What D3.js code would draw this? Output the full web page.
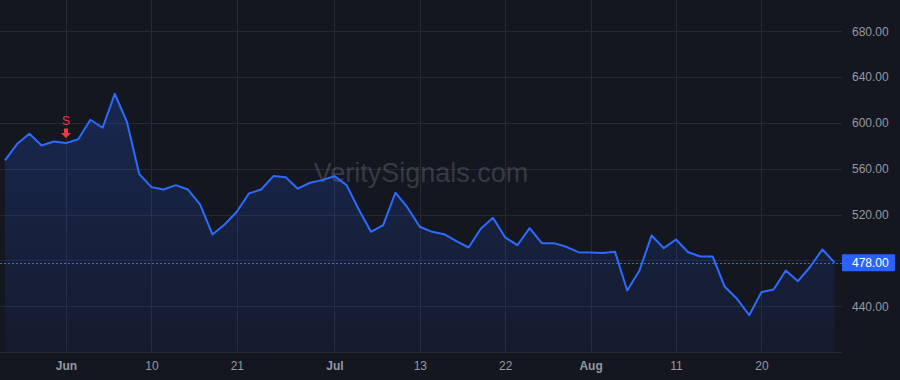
<!DOCTYPE html>
<html>
<head>
<meta charset="utf-8">
<script src="https://cdn.jsdelivr.net/npm/d3@7"></script>
<style>
  html, body { margin: 0; padding: 0; background: #141720; }
  svg { display: block; font-family: "Liberation Sans", Arial, sans-serif; }
</style>
</head>
<body>
<div id="chart-container"></div>
<script>
// closing prices, one per bar
var prices = [
  567.2, 581.7, 590.4, 580.2, 583.7, 582.3, 585.7, 602.7, 595.7, 625.3,
  600.6, 555.5, 543.9, 541.8, 545.6, 541.8, 528.7, 502.6, 511.3, 522.4,
  538.4, 541.8, 553.5, 552.6, 542.5, 547.7, 550.0, 553.5, 545.6, 524.4,
  504.9, 510.7, 539.0, 525.9, 509.3, 504.9, 502.8, 496.7, 491.2, 507.5,
  517.1, 500.0, 493.2, 508.1, 495.0, 495.0, 491.8, 487.1, 486.8, 486.3,
  487.5, 453.7, 470.9, 501.7, 490.6, 498.2, 487.1, 483.4, 483.4, 456.9,
  446.4, 432.1, 452.2, 454.6, 471.1, 461.8, 474.4, 489.5, 478.0
];
var xTickIndex = [5, 12, 19, 27, 34, 41, 48, 55, 62];
var xTickLabels = ['Jun', '10', '21', 'Jul', '13', '22', 'Aug', '11', '20'];
var monthLabels = ['Jun', 'Jul', 'Aug'];
var yTicks = [400, 440, 480, 520, 560, 600, 640, 680];
var lastPrice = 478.00;
var signalIndex = 5;
var signalLabel = 'S';

var width = 900, height = 380;
var plotRight = 842, plotBottom = 352;

var svg = d3.select('#chart-container')
            .append('svg')
            .attr('width', width)
            .attr('height', height);

svg.append('rect')
   .attr('width', width)
   .attr('height', height)
   .attr('fill', '#141720');

var x = d3.scaleLinear().domain([0, prices.length - 1]).range([5, 834.6]);
var y = d3.scaleLinear().domain([400, 707.2]).range([plotBottom, 0]);

var defs = svg.append('defs');
var grad = defs.append('linearGradient')
               .attr('id', 'areaGradient')
               .attr('x1', 0).attr('y1', 0).attr('x2', 0).attr('y2', 1);
grad.append('stop').attr('offset', '0').attr('stop-color', '#2962ff').attr('stop-opacity', 0.22);
grad.append('stop').attr('offset', '1').attr('stop-color', '#2962ff').attr('stop-opacity', 0.06);

var clip = defs.append('clipPath').attr('id', 'plotClip');
clip.append('rect').attr('x', 0).attr('y', 0).attr('width', plotRight).attr('height', plotBottom);

// grid
var grid = svg.append('g');
grid.selectAll('line.h')
    .data(yTicks)
    .enter()
    .append('line')
      .attr('x1', 0)
      .attr('x2', plotRight)
      .attr('y1', function(d) { return Math.round(y(d)) + 0.5; })
      .attr('y2', function(d) { return Math.round(y(d)) + 0.5; })
      .attr('stroke', '#252934')
      .attr('stroke-width', 1);
grid.selectAll('line.v')
    .data(xTickIndex)
    .enter()
    .append('line')
      .attr('x1', function(d) { return Math.round(x(d)) + 0.5; })
      .attr('x2', function(d) { return Math.round(x(d)) + 0.5; })
      .attr('y1', 0)
      .attr('y2', plotBottom)
      .attr('stroke', '#252934')
      .attr('stroke-width', 1);

// watermark
svg.append('text')
   .attr('x', 421)
   .attr('y', 182)
   .attr('text-anchor', 'middle')
   .attr('font-size', 27)
   .attr('fill', '#8c91a3')
   .attr('fill-opacity', 0.3)
   .text('VeritySignals.com');

var plot = svg.append('g').attr('clip-path', 'url(#plotClip)');

var area = d3.area()
             .x(function(d, i) { return x(i); })
             .y0(plotBottom)
             .y1(function(d) { return y(d); });
plot.append('path')
    .datum(prices)
    .attr('d', area)
    .attr('fill', 'url(#areaGradient)');

var line = d3.line()
             .x(function(d, i) { return x(i); })
             .y(function(d) { return y(d); });
plot.append('path')
    .datum(prices)
    .attr('d', line)
    .attr('fill', 'none')
    .attr('stroke', '#2d6bff')
    .attr('stroke-width', 2)
    .attr('stroke-linejoin', 'round');

// last price line
svg.append('line')
   .attr('x1', 0)
   .attr('x2', plotRight)
   .attr('y1', Math.round(y(lastPrice)) + 0.5)
   .attr('y2', Math.round(y(lastPrice)) + 0.5)
   .attr('stroke', '#2d6bff')
   .attr('stroke-width', 1)
   .attr('stroke-dasharray', '2,2');

// signal marker
var sx = x(signalIndex), sy = y(prices[signalIndex]);
svg.append('text')
   .attr('x', sx)
   .attr('y', sy - 18)
   .attr('text-anchor', 'middle')
   .attr('font-size', 12)
   .attr('fill', '#f23645')
   .text(signalLabel);
svg.append('path')
   .attr('d', 'M' + (sx - 2) + ',' + (sy - 14.5) + 'h4v4.5h3l-5,5l-5,-5h3z')
   .attr('fill', '#f23645');

// y axis
var yAxis = svg.append('g')
               .attr('transform', 'translate(852,0)')
               .call(d3.axisRight(y)
                       .tickValues(yTicks.filter(function(d) { return d > 400 && d !== 480; }))
                       .tickSize(0)
                       .tickPadding(0)
                       .tickFormat(d3.format('.2f')));
yAxis.select('.domain').remove();
yAxis.selectAll('text')
     .attr('fill', '#9598a1')
     .attr('font-size', 12)
     .attr('font-family', '"Liberation Sans", Arial, sans-serif');

// last price label
var ly = y(lastPrice);
svg.append('rect')
   .attr('x', 842)
   .attr('y', ly - 8.5)
   .attr('width', 53)
   .attr('height', 17)
   .attr('rx', 1)
   .attr('fill', '#2962ff');
svg.append('text')
   .attr('x', 852)
   .attr('y', ly + 4.5)
   .attr('font-size', 12)
   .attr('fill', '#ffffff')
   .text(d3.format('.2f')(lastPrice));

// x axis
var xAxis = svg.append('g')
               .attr('transform', 'translate(0,' + plotBottom + ')')
               .call(d3.axisBottom(x)
                       .tickValues(xTickIndex)
                       .tickSize(0)
                       .tickPadding(9)
                       .tickFormat(function(d, i) { return xTickLabels[i]; }));
xAxis.select('.domain').remove();
xAxis.selectAll('text')
     .attr('fill', '#9598a1')
     .attr('font-size', 12)
     .attr('font-family', '"Liberation Sans", Arial, sans-serif')
     .attr('font-weight', function(d, i) { return monthLabels.indexOf(xTickLabels[i]) >= 0 ? 'bold' : 'normal'; });
</script>
</body>
</html>
